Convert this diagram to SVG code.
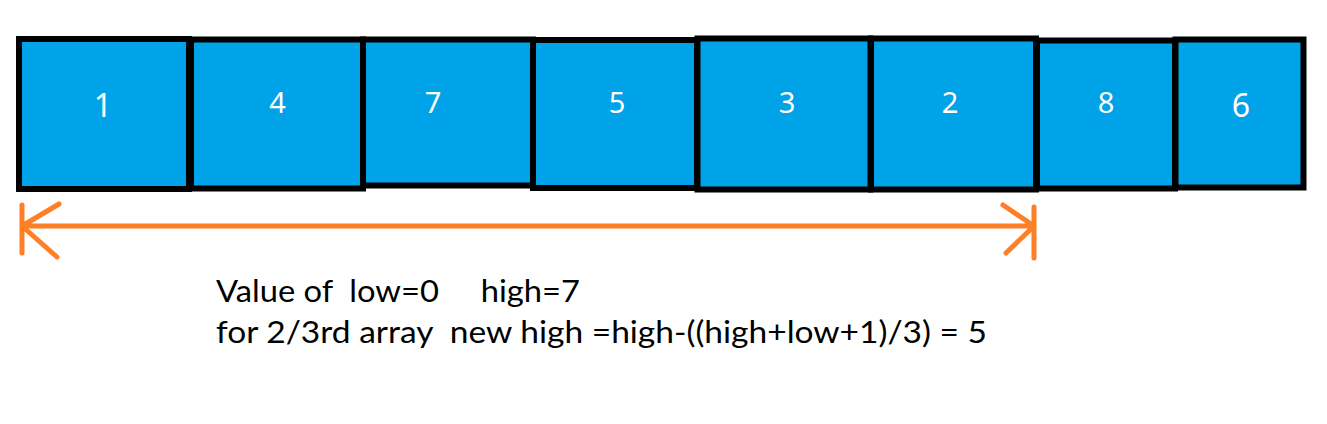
<svg xmlns="http://www.w3.org/2000/svg" width="1327" height="424" viewBox="0 0 1327 424">
<style>
.cell{fill:#00A2E8;stroke:#000;stroke-width:6}
.num{fill:#fff;font-family:"Noto Sans","Open Sans",sans-serif;font-size:29px;text-anchor:middle}
.big{font-size:32px}
.arr{stroke:#FF7F27;stroke-width:5;stroke-linecap:round;fill:none}
.lbl{fill:#000;font-family:"Lato","Noto Sans",sans-serif;font-size:30px;white-space:pre}
</style>
<rect width="1327" height="424" fill="#fff"/>
<g id="n1"><rect class="cell" x="19" y="39" width="170" height="150"/><text class="num big" x="103" y="117">1</text></g>
<g id="n2"><rect class="cell" x="191" y="39.5" width="172" height="149"/><text class="num" x="277.5" y="113">4</text></g>
<g id="n3"><rect class="cell" x="363" y="39.5" width="170" height="146"/><text class="num" x="433" y="113">7</text></g>
<g id="n4"><rect class="cell" x="533" y="40" width="164" height="148"/><text class="num" x="617" y="113">5</text></g>
<g id="n5"><rect class="cell" x="697.5" y="38.5" width="173" height="151"/><text class="num" x="787" y="113">3</text></g>
<g id="n6"><rect class="cell" x="871" y="38.5" width="165" height="151"/><text class="num" x="950" y="113">2</text></g>
<g id="n7"><rect class="cell" x="1037" y="40.5" width="138" height="148"/><text class="num" x="1106" y="113">8</text></g>
<g id="n8"><rect class="cell" x="1175.5" y="39.5" width="128" height="148"/><text class="num big" x="1241" y="117">6</text></g>
<g id="connectors">
<path class="arr" d="M22 226 H1034 M22 205 V253 M22 226 L59 204 M22 226 L57 257 M1034 207 V258 M1034 226 L1003 205 M1034 226 L1006 253"/>
</g>
<g id="label">
<text class="lbl" x="216" y="302" textLength="364" lengthAdjust="spacingAndGlyphs">Value of  low=0     high=7</text>
<text class="lbl" x="216" y="343" textLength="771" lengthAdjust="spacingAndGlyphs">for 2/3rd array  new high =high-((high+low+1)/3) = 5</text>
</g>
</svg>
